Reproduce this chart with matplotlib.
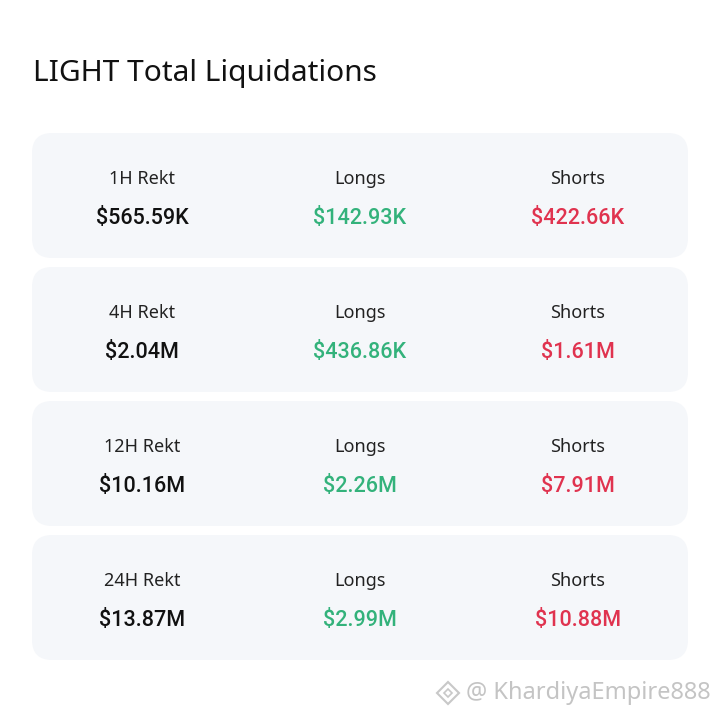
import matplotlib
matplotlib.use("Agg")
import matplotlib.pyplot as plt
from matplotlib.patches import FancyBboxPatch, Polygon

title = "LIGHT Total Liquidations"
periods = ["1H Rekt", "4H Rekt", "12H Rekt", "24H Rekt"]
totals = ["$565.59K", "$2.04M", "$10.16M", "$13.87M"]
longs = ["$142.93K", "$436.86K", "$2.26M", "$2.99M"]
shorts = ["$422.66K", "$1.61M", "$7.91M", "$10.88M"]
col_labels = ["Longs", "Shorts"]
watermark = "@ KhardiyaEmpire888"

GREEN = "#33B27B"
RED = "#E0334F"
CARD = "#F5F7FA"
FONT = ["Noto Sans", "DejaVu Sans"]
BFONT = ["Roboto", "DejaVu Sans"]

fig = plt.figure(figsize=(7.2, 7.2), dpi=100)
ax = fig.add_axes([0, 0, 1, 1])
ax.set_xlim(0, 720)
ax.set_ylim(720, 0)
ax.axis("off")

ax.text(33, 74, title, fontsize=21.5, family=FONT, color="#111111",
        ha="left", va="center")

card_x0, card_x1 = 32, 688
card_top0, card_h, pitch = 133, 125, 134
cols = [142, 360, 578]

for i in range(len(periods)):
    top = card_top0 + i * pitch
    r = 20
    box = FancyBboxPatch((card_x0 + r, top + r), card_x1 - card_x0 - 2 * r, card_h - 2 * r,
                         boxstyle=f"round,pad={r}", linewidth=0, facecolor=CARD)
    ax.add_patch(box)
    labels = [periods[i], col_labels[0], col_labels[1]]
    values = [totals[i], longs[i], shorts[i]]
    colors = ["#111111", GREEN, RED]
    for cx, lab, val, c in zip(cols, labels, values, colors):
        ax.text(cx, top + 46, lab, fontsize=13, family=FONT, color="#222222",
                ha="center", va="center")
        ax.text(cx, top + 85, val, fontsize=15.5, family=BFONT, color=c,
                fontweight="medium", ha="center", va="center")

# watermark logo (diamond outline) and handle
lx, ly, s = 448, 693, 11
ax.add_patch(Polygon([[lx - s, ly], [lx, ly - s], [lx + s, ly], [lx, ly + s]],
                     closed=True, fill=False, edgecolor="#C8C8C8", linewidth=1.5))
ax.add_patch(Polygon([[lx - 4, ly], [lx, ly - 4], [lx + 4, ly], [lx, ly + 4]],
                     closed=True, fill=False, edgecolor="#C8C8C8", linewidth=1.2))
ax.text(466, 693, watermark, fontsize=17, family=FONT, color="#C4C4C4",
        ha="left", va="center")

fig.savefig("out.png", dpi=100, facecolor="white")
